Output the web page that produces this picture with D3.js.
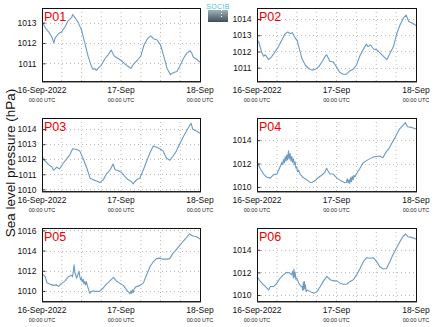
<!DOCTYPE html>
<html>
<head>
<meta charset="utf-8">
<script src="https://cdn.jsdelivr.net/npm/d3@7"></script>
<style>
  body { margin: 0; background: #fff; }
  svg { display: block; font-family: "Liberation Sans", Arial, sans-serif; }
</style>
</head>
<body>
<svg width="434" height="327"></svg>
<script>
// hours since 16-Sep-2022 00:00 UTC, pressure in hPa
const stations = ["P01", "P02", "P03", "P04", "P05", "P06"];

const p01 = [[0,1013.1],[1,1012.75],[2,1012.55],[3,1012.3],[3.6,1012.0],[4,1012.25],[5,1012.45],[6,1012.55],[7,1012.8],[8,1013.1],[9,1013.25],[9.3,1013.4],[10,1013.25],[11,1013.0],[12,1012.65],[13,1012.0],[14,1011.35],[15,1010.85],[15.5,1010.7],[16,1010.75],[16.5,1010.65],[17,1010.75],[18,1010.9],[19,1011.2],[20,1011.4],[21,1011.65],[22,1011.35],[23,1011.25],[24,1011.15],[25,1011.0],[26,1010.87],[27,1010.75],[28,1011.0],[29,1011.15],[30,1011.35],[31,1011.9],[32,1012.2],[33,1012.35],[34,1012.2],[35,1012.15],[36,1011.9],[37,1011.35],[38,1010.75],[39,1010.45],[40,1010.55],[41,1010.6],[42,1010.9],[43,1011.25],[44,1011.5],[45,1011.62],[45.5,1011.5],[46,1011.3],[47,1011.2],[48,1011.05]];
const p02 = [[0,1012.7],[0.5,1012.6],[1.5,1011.9],[2,1011.7],[2.5,1011.8],[3.5,1011.5],[4.5,1011.7],[5.5,1012.0],[6.5,1012.3],[7.5,1012.7],[8.5,1013.1],[9.3,1013.2],[10,1013.1],[10.7,1013.15],[11.6,1012.8],[12.1,1012.7],[12.6,1012.3],[13.6,1011.55],[14.6,1011.15],[15.6,1010.95],[16.6,1010.85],[17.6,1010.9],[18.6,1011.05],[19.6,1011.35],[20.6,1011.7],[21,1011.8],[22,1011.4],[23,1011.35],[24,1011.05],[25,1010.7],[26,1010.6],[27,1010.6],[28,1010.8],[29,1010.9],[30,1011.15],[31,1011.7],[32,1012.1],[33,1012.45],[33.5,1012.3],[34.3,1012.4],[35.2,1012.15],[36.2,1012.1],[37.2,1011.9],[38.2,1011.7],[39.2,1011.5],[40.2,1011.9],[41.2,1012.3],[42.2,1013.1],[43.2,1013.65],[44.2,1014.05],[45,1014.25],[45.8,1013.85],[46.8,1013.75],[48,1013.6]];
const p03 = [[0,1012.2],[1,1011.87],[2,1011.64],[3,1011.48],[3.5,1011.26],[4.5,1011.48],[5.3,1011.35],[6.5,1011.75],[7.5,1012.02],[8.5,1012.31],[9.3,1012.7],[10.5,1012.65],[11.5,1012.54],[12.6,1011.98],[13.6,1011.42],[14.6,1010.74],[15.6,1010.63],[16.6,1010.56],[17.6,1010.45],[18.6,1010.63],[19.6,1011.03],[20.6,1011.26],[21.6,1011.69],[22.2,1011.3],[23.2,1011.24],[24.2,1011.12],[25.2,1010.85],[26.2,1010.63],[27.2,1010.52],[27.7,1010.36],[28.7,1010.63],[29.7,1010.74],[30.8,1011.3],[31.8,1011.87],[32.8,1012.43],[33.8,1012.88],[34.8,1012.8],[35.8,1012.7],[36.8,1012.54],[37.8,1012.09],[38.8,1011.93],[39.8,1012.2],[40.8,1012.54],[41.8,1012.99],[42.8,1013.44],[43.8,1013.82],[44.8,1014.22],[45.3,1014.38],[45.8,1014.0],[46.8,1013.89],[48,1013.73]];
const p04 = [[0,1012.15],[1,1011.55],[2,1011.1],[3,1010.82],[4,1010.75],[5,1011.05],[6,1011.1],[6.5,1011.4],[7,1011.75],[7.5,1012.1],[7.75,1011.9],[8,1012.35],[8.25,1012.05],[8.5,1012.6],[8.75,1012.2],[9,1012.75],[9.25,1012.3],[9.5,1013.1],[9.75,1012.4],[10,1012.85],[10.25,1012.2],[10.5,1012.6],[10.75,1012.1],[11,1012.4],[11.25,1011.9],[11.5,1012.15],[11.75,1011.6],[12,1011.7],[12.25,1011.3],[12.5,1011.45],[13,1011.1],[14,1010.8],[15,1010.6],[16,1010.4],[16.5,1010.38],[17.5,1010.52],[18.5,1010.8],[19.5,1011.0],[20.5,1011.25],[21,1011.6],[22,1011.1],[23,1011.1],[24,1010.8],[25,1010.58],[26,1010.43],[26.5,1010.35],[27,1010.4],[27.25,1010.7],[27.5,1010.35],[27.75,1010.6],[28,1010.3],[28.25,1010.8],[28.5,1010.45],[28.75,1010.9],[29,1010.6],[29.25,1011.0],[29.5,1010.85],[30,1011.1],[31,1011.55],[32,1012.05],[33,1012.25],[34,1012.4],[35,1012.55],[36,1012.6],[37,1012.65],[38,1012.5],[39,1013.0],[40,1013.35],[41,1013.9],[42,1014.4],[43,1014.95],[44,1015.25],[44.8,1015.5],[45.5,1015.15],[46.5,1015.1],[48,1014.95]];
const p05 = [[0,1011.75],[1,1011.4],[1.5,1010.8],[2.5,1010.65],[3.5,1010.55],[4.5,1010.6],[5,1010.45],[6,1010.75],[7,1011.0],[8,1011.4],[9,1011.55],[9.25,1011.4],[9.5,1011.9],[9.75,1012.6],[10,1011.8],[10.25,1011.55],[10.5,1011.25],[10.75,1011.5],[11,1011.7],[11.25,1011.95],[11.5,1011.4],[11.75,1011.1],[12,1011.3],[12.25,1010.9],[12.5,1011.15],[12.75,1010.7],[13,1010.95],[13.25,1010.6],[13.5,1010.9],[13.75,1010.55],[14,1010.3],[14.5,1009.75],[15,1009.95],[15.5,1010.0],[16.5,1009.95],[17.5,1009.95],[18.5,1010.25],[19.5,1010.65],[20.5,1010.95],[21.7,1011.35],[22.7,1010.95],[23.7,1010.75],[24.7,1010.55],[25.7,1010.1],[26.5,1009.8],[26.75,1009.7],[27,1010.0],[27.25,1009.75],[27.5,1010.1],[27.75,1009.85],[28,1010.2],[28.5,1010.4],[29,1010.45],[29.8,1010.55],[30.8,1010.8],[31.8,1011.6],[32.8,1012.4],[33.8,1012.9],[34.8,1013.2],[35.8,1013.25],[36.8,1013.15],[37.8,1013.15],[38.8,1013.2],[39.8,1013.75],[40.8,1014.1],[41.8,1014.5],[42.8,1014.9],[43.8,1015.25],[44.8,1015.65],[45.8,1015.45],[46.8,1015.4],[48,1015.15]];
const p06 = [[0,1011.65],[1,1011.2],[2,1010.9],[3,1010.6],[3.5,1010.45],[4,1010.75],[5,1010.75],[6,1011.05],[7,1011.5],[8,1011.8],[9,1012.0],[9.8,1011.95],[10.5,1011.8],[10.75,1012.1],[11,1011.5],[11.15,1012.3],[11.3,1011.6],[11.5,1012.0],[11.7,1011.4],[12,1011.5],[12.6,1011.05],[13.2,1010.8],[13.6,1010.75],[13.8,1010.4],[14,1011.1],[14.15,1010.5],[14.3,1011.2],[14.45,1010.6],[14.6,1010.9],[14.8,1010.3],[15.1,1010.45],[16.1,1010.3],[17.1,1010.15],[18.1,1010.3],[19.1,1010.75],[20.1,1011.25],[21.1,1011.65],[22.1,1011.35],[23.1,1011.25],[24.1,1011.25],[25.1,1011.05],[26.1,1010.95],[27.1,1010.95],[28.1,1011.2],[29.1,1011.35],[30.1,1011.8],[31.1,1012.35],[32.1,1012.95],[33.1,1013.3],[34.1,1013.25],[35.1,1013.3],[36.1,1012.95],[37.1,1012.5],[38.1,1012.3],[39.1,1012.35],[40.1,1012.95],[41.1,1013.6],[42.1,1014.15],[43.1,1014.7],[44.1,1015.2],[44.9,1015.4],[45.6,1015.15],[46.6,1015.1],[48,1014.95]];
const series = [p01, p02, p03, p04, p05, p06];

const yDomains = [[1010.13,1013.72],[1010.18,1014.68],[1009.89,1014.74],[1009.65,1015.9],[1009.0,1016.24],[1009.47,1015.93]];
const yTicks = [[1011,1012,1013],[1011,1012,1013,1014],[1010,1011,1012,1013,1014],[1010,1012,1014],[1010,1012,1014,1016],[1010,1012,1014]];
const xTickLabels = ["16-Sep-2022", "17-Sep", "18-Sep"];

const svg = d3.select("svg");
const t0 = Date.UTC(2022, 8, 16);
const hourDate = h => new Date(t0 + h * 3600e3);

const cols = [[42, 200], [257, 416]];
const rows = [[8, 81], [118, 191], [228, 301]];
const lineColor = "#6b9ac4";

stations.forEach((name, i) => {
  const [x0, x1] = cols[i % 2];
  const [y0, y1] = rows[Math.floor(i / 2)];

  const x = d3.scaleUtc().domain([hourDate(0), hourDate(48)]).range([x0, x1]);
  const y = d3.scaleLinear().domain(yDomains[i]).range([y1, y0]);

  const g = svg.append("g");

  // dotted grid
  g.append("g")
    .selectAll("line.v")
    .data(d3.range(6, 48, 6))
    .join("line")
    .attr("x1", d => x(hourDate(d))).attr("x2", d => x(hourDate(d)))
    .attr("y1", y0).attr("y2", y1)
    .attr("stroke", "#bbb").attr("stroke-width", 1)
    .attr("stroke-dasharray", "1,3");

  g.append("g")
    .selectAll("line.h")
    .data(yTicks[i])
    .join("line")
    .attr("x1", x0).attr("x2", x1)
    .attr("y1", d => Math.round(y(d)) + 0.5).attr("y2", d => Math.round(y(d)) + 0.5)
    .attr("stroke", "#bbb").attr("stroke-width", 1)
    .attr("stroke-dasharray", "1,3");

  const line = d3.line()
    .x(d => x(hourDate(d[0])))
    .y(d => y(d[1]));

  g.append("path")
    .datum(series[i])
    .attr("d", line)
    .attr("fill", "none")
    .attr("stroke", lineColor)
    .attr("stroke-width", 1.1)
    .attr("stroke-linejoin", "round");

  // frame
  g.append("rect")
    .attr("x", x0 + 0.5).attr("y", y0 + 0.5)
    .attr("width", x1 - x0).attr("height", y1 - y0)
    .attr("fill", "none").attr("stroke", "#111").attr("stroke-width", 1);
  g.append("line")
    .attr("x1", x0).attr("x2", x1 + 1)
    .attr("y1", y1 + 1).attr("y2", y1 + 1)
    .attr("stroke", "#333").attr("stroke-width", 1.2);

  // y axis
  const yAxis = d3.axisLeft(y).tickValues(yTicks[i]).tickSize(-3).tickPadding(6).tickFormat(d3.format("d"));
  const ya = g.append("g").attr("transform", `translate(${x0 + 0.5},0)`).call(yAxis);
  ya.select(".domain").remove();
  ya.selectAll("text").attr("font-size", 8.5).attr("fill", "#111").attr("font-family", null);
  ya.selectAll("line").attr("stroke", "#333");

  // x axis labels
  const xa = g.append("g");
  [0, 24, 48].forEach((h, k) => {
    xa.append("text")
      .attr("x", x(hourDate(h))).attr("y", y1 + 12)
      .attr("text-anchor", "middle")
      .attr("font-size", 8.5).attr("fill", "#111")
      .text(xTickLabels[k]);
    xa.append("text")
      .attr("x", x(hourDate(h))).attr("y", y1 + 21)
      .attr("text-anchor", "middle")
      .attr("font-size", 5.5).attr("fill", "#222")
      .text("00:00 UTC");
  });

  g.append("text")
    .attr("x", x0 + 2).attr("y", y0 + 13)
    .attr("font-size", 12.5).attr("fill", "#e00")
    .text(name);
});

// y title
svg.append("text")
  .attr("transform", "translate(15,163) rotate(-90)")
  .attr("text-anchor", "middle")
  .attr("font-size", 13.5).attr("fill", "#111")
  .text("Sea level pressure (hPa)");

// small logo
const defs = svg.append("defs");
const grad = defs.append("linearGradient").attr("id", "logoGrad").attr("x1", 0).attr("x2", 0).attr("y1", 0).attr("y2", 1);
grad.append("stop").attr("offset", "0%").attr("stop-color", "#9fb3bb");
grad.append("stop").attr("offset", "100%").attr("stop-color", "#3d4f5c");
svg.append("rect").attr("x", 208).attr("y", 10).attr("width", 20).attr("height", 12).attr("fill", "url(#logoGrad)");
svg.append("line").attr("x1", 221.5).attr("x2", 221.5).attr("y1", 10).attr("y2", 18)
  .attr("stroke", "#fff").attr("stroke-width", 1).attr("stroke-dasharray", "1,2");
svg.append("text").attr("x", 218).attr("y", 9).attr("text-anchor", "middle")
  .attr("font-size", 7).attr("fill", "#3cc6d8").attr("letter-spacing", 0.3).text("SOCIB");
</script>
</body>
</html>
